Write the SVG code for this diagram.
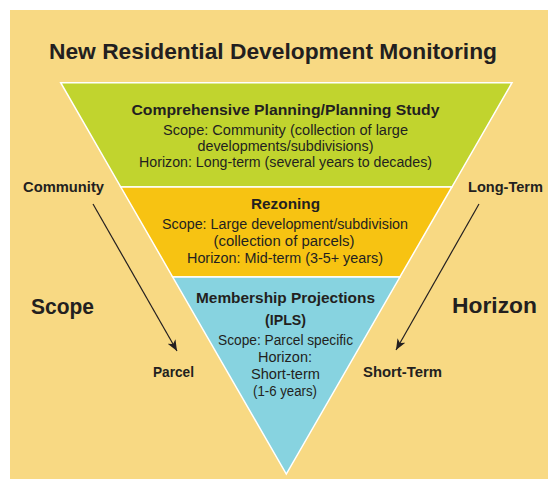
<svg xmlns="http://www.w3.org/2000/svg" width="548" height="479" viewBox="0 0 548 479">
  <style>
    text { font-family: "Liberation Sans", Arial, sans-serif; fill: #231F20; }
    .title { font-size: 22px; font-weight: bold; }
    .head { font-size: 15px; font-weight: bold; text-anchor: middle; }
    .body { font-size: 14px; text-anchor: middle; }
    .side { font-size: 14.5px; font-weight: bold; }
    .big { font-size: 22px; font-weight: bold; }
    .band { stroke: #FFFFFF; stroke-width: 1.5; stroke-linejoin: miter; }
    .conn { stroke: #231F20; stroke-width: 1.2; fill: none; marker-end: url(#arrow); }
  </style>
  <defs>
    <marker id="arrow" markerUnits="userSpaceOnUse" markerWidth="12" markerHeight="10" refX="11" refY="4.5" orient="auto">
      <path d="M0,0 L11,4.5 L0,9 L3,4.5 z" fill="#231F20"/>
    </marker>
  </defs>
  <rect x="10" y="10" width="538" height="469" fill="#F8D983"/>
  <text class="title" x="49" y="59" textLength="448" lengthAdjust="spacingAndGlyphs">New Residential Development Monitoring</text>

  <g id="band-planning">
    <polygon class="band" points="60.7,82.7 512,82.7 451.9,187 120.8,187" fill="#C1D42E"/>
    <text class="head" x="285.5" y="115" textLength="308" lengthAdjust="spacingAndGlyphs">Comprehensive Planning/Planning Study</text>
    <text class="body" x="285.5" y="135" textLength="245" lengthAdjust="spacingAndGlyphs">Scope: Community (collection of large</text>
    <text class="body" x="285.5" y="151" textLength="176" lengthAdjust="spacingAndGlyphs">developments/subdivisions)</text>
    <text class="body" x="285.5" y="167" textLength="293" lengthAdjust="spacingAndGlyphs">Horizon: Long-term (several years to decades)</text>
  </g>

  <g id="band-rezoning">
    <polygon class="band" points="120.8,187 451.9,187 399.9,277 172.7,277" fill="#F7C312"/>
    <text class="head" x="285.5" y="209" textLength="69" lengthAdjust="spacingAndGlyphs">Rezoning</text>
    <text class="body" x="285" y="229" textLength="246" lengthAdjust="spacingAndGlyphs">Scope: Large development/subdivision</text>
    <text class="body" x="284" y="246" textLength="141" lengthAdjust="spacingAndGlyphs">(collection of parcels)</text>
    <text class="body" x="285" y="263" textLength="196" lengthAdjust="spacingAndGlyphs">Horizon: Mid-term (3-5+ years)</text>
  </g>

  <g id="band-membership">
    <polygon class="band" points="172.7,277 399.9,277 286.3,474" fill="#87D3E0"/>
    <text class="head" x="285.5" y="303" textLength="179" lengthAdjust="spacingAndGlyphs">Membership Projections</text>
    <text class="head" x="285.5" y="325" textLength="41" lengthAdjust="spacingAndGlyphs">(IPLS)</text>
    <text class="body" x="285.5" y="345" textLength="135" lengthAdjust="spacingAndGlyphs">Scope: Parcel specific</text>
    <text class="body" x="285" y="362" textLength="54" lengthAdjust="spacingAndGlyphs">Horizon:</text>
    <text class="body" x="285.5" y="379" textLength="69" lengthAdjust="spacingAndGlyphs">Short-term</text>
    <text class="body" x="285" y="396" textLength="64" lengthAdjust="spacingAndGlyphs">(1-6 years)</text>
  </g>

  <g id="label-community"><text class="side" x="23" y="192" textLength="81" lengthAdjust="spacingAndGlyphs">Community</text></g>
  <g id="label-scope"><text class="big" x="31" y="314" textLength="63" lengthAdjust="spacingAndGlyphs">Scope</text></g>
  <g id="label-parcel"><text class="side" x="153" y="377" textLength="41" lengthAdjust="spacingAndGlyphs">Parcel</text></g>
  <g id="label-longterm"><text class="side" x="468" y="192" textLength="75" lengthAdjust="spacingAndGlyphs">Long-Term</text></g>
  <g id="label-horizon"><text class="big" x="452" y="313" textLength="85" lengthAdjust="spacingAndGlyphs">Horizon</text></g>
  <g id="label-shortterm"><text class="side" x="363" y="377" textLength="79" lengthAdjust="spacingAndGlyphs">Short-Term</text></g>

  <g id="connectors">
    <line class="conn" x1="93" y1="204" x2="177" y2="351"/>
    <line class="conn" x1="479" y1="204" x2="396" y2="350"/>
  </g>
</svg>
